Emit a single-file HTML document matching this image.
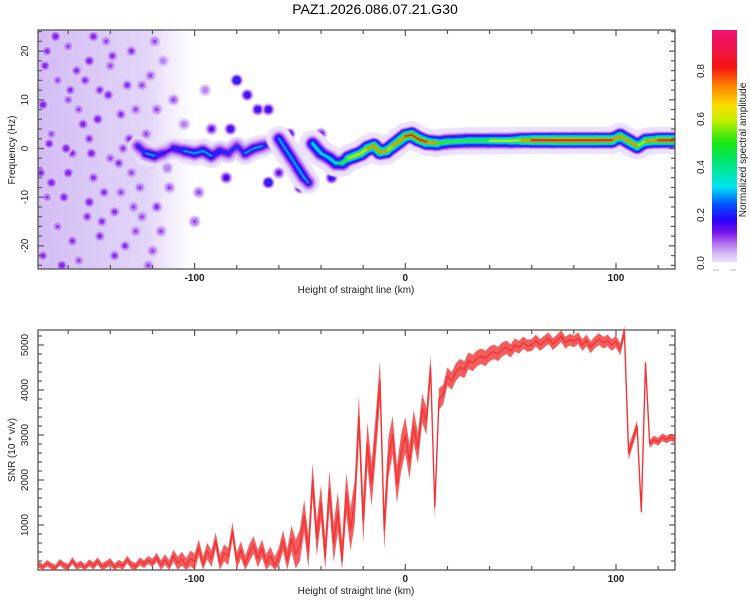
<!DOCTYPE html>
<html><head><meta charset="utf-8">
<style>
html,body{margin:0;padding:0;background:#fff;}
#wrap{position:relative;width:750px;height:600px;overflow:hidden;font-family:"Liberation Sans",sans-serif;}
canvas{position:absolute;}
svg{position:absolute;left:0;top:0;}
</style></head>
<body>
<div id="wrap">
<canvas id="spec" width="637" height="239" style="left:38px;top:30px"></canvas>
<canvas id="cbar" width="25" height="232" style="left:712px;top:30px"></canvas>
<svg id="svg" width="750" height="600"></svg>
</div>
<script>
// ---- SNR data (x in km, 2 km steps from -174) ----
const snrStart = -174;
const snrStep = 2;
const snrValues = [120,60,150,90,40,170,100,60,210,80,130,50,160,90,200,70,120,180,60,140,90,230,110,70,190,130,220,
160,280,110,230,90,320,150,250,100,260,
180,500,120,420,250,650,150,380,300,870,200,450,120,380,560,250,480,150,320,90,
300,650,200,700,350,550,
1200,400,2000,700,1500,300,1800,
600,1300,200,1700,900,
1500,3400,1100,2800,
1900,3000,4200,900,
2500,3000,1900,2600,
3000,2400,3200,2700,3600,3300,
4500,1400,3800,
3900,4300,4200,4400,
4500,4450,4650,4600,4700,4750,4700,4800,
4850,4800,4900,4950,4870,5000,4950,5050,4980,5000,
5100,5000,5080,5150,5020,5100,5200,5050,5120,5080,5150,5000,5100,4950,5060,5130,5050,5100,5000,5080,
4900,5300,
2600,2900,3200,1300,
4600,2800,2900,2850,2950,2900,2950,2900];
// noise half-spread of the SNR trace at breakpoints
const spreadX = [-174,-120,-100,-60,-50,-20,0,20,60,104,106,114,128];
const spreadV = [70,90,180,200,350,500,400,200,130,130,150,90,80];
// ---- Spectrogram ridge tracks ----
const ridge1X = [-127,-123,-119,-115,-110,-105,-100,-96,-92,-88,-84,-80,-76,-72,-68,-64];
const ridge1F = [0.5,-1,-1.5,-1,0,-0.5,-1,-0.5,-1.5,-0.5,-1,0.5,-1,0,0.5,1];
const ridge1A = [0.12,0.3,0.3,0.15,0.2,0.3,0.3,0.32,0.3,0.2,0.25,0.15,0.25,0.3,0.25,0.2];
const ridge2X = [-60,-57,-54,-51,-48,-46];
const ridge2F = [2,0,-2,-4,-6,-7];
const ridge2A = [0.3,0.35,0.3,0.3,0.35,0.2];
const ridge3X = [-44,-40,-36,-33,-30,-27,-24,-21,-18,-15,-12,-9,-6,-3,0,3,6,10,15,20,30,40,50,55,60,70,80,90,98,102,106,110,114,120,128];
const ridge3F = [1,-1,-2,-3,-3,-2,-1.5,-1,0,0.5,-0.7,-0.5,0.5,1.5,2.5,2.8,2,1.3,1.1,1.4,1.6,1.6,1.6,1.7,1.7,1.7,1.7,1.7,1.7,2.5,1.5,0.5,1.5,1.7,1.7];
const ridge3A = [0.4,0.4,0.35,0.45,0.4,0.6,0.7,0.65,0.7,0.75,0.75,0.7,0.7,0.75,0.8,0.85,0.8,0.85,0.6,0.55,0.55,0.58,0.6,0.7,0.85,0.88,0.9,0.88,0.85,0.6,0.85,0.6,0.7,0.85,0.88];
// ---- scattered noise blobs ----
const noiseX = [-170,-160,-150,-140,-130,-165,-145,-125,-172,-155,-135,-118,-168,-150,-140,-160,-130,-120,-170,-150,-135,-118,-165,-145,-128,-172,-155,-138,-120,-158,-110,-112,-105,-100,-95,-160,-142,-115,-125,-148,-80,-75,-70,-65,-92,-83,-55,-40,-85,-65,-50,-35,-98,-60,
 -166,-156,-146,-136,-126,-116,-171,-161,-151,-141,-131,-121,-168,-158,-148,-138,-128,-163,-153,-143,-133,-123,-113,-169,-159,-149,-139,-129,-119,-162,-152,-132,-122,-173,-144,-134];
const noiseF = [20,21,18,17,20,14,12,13,9,8,7,8,3,2,-2,-5,-5,-3,-10,-11,-9,-12,-16,-18,-17,-22,-23,-22,-21,-1,10,-8,5,-15,12,10,22,18,-14,-6,14,11,8,8,4,4,3,3,-6,-7,-8,-6,-9,-5,
 23,16,6,-3,-8,-17,17,0,-14,11,2,15,-7,-19,23,-13,8,-24,5,-9,-20,3,-4,1,12,-1,19,-12,22,-10,14,13,-24,-5,-15,0];
const noiseA = [0.12,0.1,0.14,0.1,0.12,0.1,0.12,0.1,0.14,0.1,0.12,0.1,0.1,0.12,0.1,0.14,0.1,0.12,0.1,0.14,0.1,0.12,0.1,0.12,0.1,0.12,0.1,0.12,0.1,0.12,0.1,0.1,0.08,0.1,0.08,0.1,0.1,0.08,0.1,0.12,0.25,0.2,0.2,0.2,0.15,0.2,0.2,0.15,0.18,0.25,0.2,0.2,0.1,0.15,
 0.14,0.12,0.14,0.12,0.1,0.1,0.13,0.14,0.12,0.13,0.12,0.1,0.14,0.12,0.13,0.12,0.1,0.14,0.13,0.12,0.12,0.1,0.09,0.13,0.12,0.14,0.12,0.1,0.1,0.13,0.12,0.12,0.1,0.13,0.12,0.11];
const xTicks = [-100,0,100];
const fTicks = [-20,-10,0,10,20];
const snrTicks = [1000,2000,3000,4000,5000];
const cbTicks = [0.0,0.2,0.4,0.6,0.8];

// axis functions
const X0=38,X1=675;
function xPix(k){return 405.3+(k)*2.107;}
function fPix(f){return 148.5-f*4.87;}
function sPix(v){return 570-v*0.045;}
function cbPix(a){return 263-a*240;}

// colormap
const stops=[[0,[240,230,252]],[0.04,[215,190,245]],[0.09,[170,100,240]],[0.13,[120,20,235]],[0.18,[40,0,250]],[0.25,[0,90,255]],[0.32,[0,230,240]],[0.42,[0,230,120]],[0.5,[20,230,20]],[0.6,[200,240,0]],[0.66,[250,220,0]],[0.74,[255,130,0]],[0.82,[245,20,20]],[0.92,[240,20,90]],[1,[240,20,130]]];
function cmap(a){
  if(a<=0)return 'rgb(240,230,252)';
  for(let i=1;i<stops.length;i++){if(a<=stops[i][0]){const [a0,c0]=stops[i-1],[a1,c1]=stops[i];const t=(a-a0)/(a1-a0);return 'rgb('+c0.map((c,j)=>Math.round(c+(c1[j]-c)*t)).join(',')+')';}}
  return 'rgb(240,20,130)';
}

// spectrogram
const cv=document.getElementById('spec').getContext('2d');
cv.translate(-X0,-30);
const g=cv.createLinearGradient(xPix(-175),0,xPix(-100),0);
g.addColorStop(0,'rgba(205,180,242,0.9)');g.addColorStop(0.7,'rgba(215,195,246,0.7)');g.addColorStop(1,'rgba(230,215,250,0)');
cv.fillStyle=g;cv.fillRect(X0,30,xPix(-100)-X0,239);
const levels=[0.01,0.05,0.1,0.15,0.2,0.27,0.33,0.42,0.5,0.58,0.65,0.72,0.8,0.86];
const W=9;
function drawTrack(xs,fs,as){
  // soft outer halo
  cv.strokeStyle='rgb(236,224,251)';cv.lineCap='round';cv.lineJoin='round';
  for(let i=0;i<xs.length-1;i++){
    const a=(as[i]+as[i+1])/2;
    cv.lineWidth=2*W*1.5*Math.min(1,a/0.5+0.3);
    cv.beginPath();cv.moveTo(xPix(xs[i]),fPix(fs[i]));cv.lineTo(xPix(xs[i+1]),fPix(fs[i+1]));cv.stroke();
  }
  for(const L of levels){
    cv.strokeStyle=cmap(L+0.02);
    for(let i=0;i<xs.length-1;i++){
      const a=(as[i]+as[i+1])/2;if(a<L)continue;
      cv.lineWidth=2*Math.max(1,W*Math.pow(1-L/a,1.5));
      cv.beginPath();cv.moveTo(xPix(xs[i]),fPix(fs[i]));cv.lineTo(xPix(xs[i+1]),fPix(fs[i+1]));cv.stroke();
    }
  }
}
for(let i=0;i<noiseX.length;i++){
  for(const L of levels){const a=noiseA[i];if(a<L)continue;
    cv.fillStyle=cmap(L+0.02);cv.beginPath();cv.arc(xPix(noiseX[i]),fPix(noiseF[i]),Math.max(1.5,5*(1-L/a)+1.5),0,7);cv.fill();}
}
drawTrack(ridge1X,ridge1F,ridge1A);
drawTrack(ridge2X,ridge2F,ridge2A);
drawTrack(ridge3X,ridge3F,ridge3A);

// colorbar
const cb=document.getElementById('cbar').getContext('2d');
for(let y=0;y<232;y++){cb.fillStyle=cmap((263-(30+y))/240);cb.fillRect(0,y,25,1);}

// SVG axes
const svg=document.getElementById('svg');const NS='http://www.w3.org/2000/svg';
function el(t,a,txt){const e=document.createElementNS(NS,t);for(const k in a)e.setAttribute(k,a[k]);if(txt!==undefined)e.textContent=txt;svg.appendChild(e);return e;}
let e;
e=el('text',{x:375,y:14,'text-anchor':'middle','font-size':14,fill:'#000'},'PAZ1.2026.086.07.21.G30');


function frame(top,bot,name){
  const r=el('rect',{x:X0,y:top,width:X1-X0,height:bot-top,fill:'none',stroke:'#555','stroke-width':1.3});
  
  
  for(let k=-160;k<=120;k+=20){const x=xPix(k);const len=(k%100===0)?6:4;
    const t1=el('line',{x1:x,x2:x,y1:bot,y2:bot-len,stroke:'#555','stroke-width':1.2});
    
    
    const t2=el('line',{x1:x,x2:x,y1:top,y2:top+len,stroke:'#555','stroke-width':1.2});
    
    }
  for(const k of xTicks){const t=el('text',{x:xPix(k),y:bot+12,'text-anchor':'middle','font-size':10,'font-weight':'bold',fill:'#222'},String(k));
    
    }
  const xt=el('text',{x:356,y:bot+24,'text-anchor':'middle','font-size':10,fill:'#222'},'Height of straight line (km)');
  
  
}
frame(30,269,'spectrogram-frame');
frame(330,570,'snr-frame');
for(let f=-24;f<=24;f+=2){const y=fPix(f);const len=(f%10===0)?6:4;
  e=el('line',{x1:X0,x2:X0+len,y1:y,y2:y,stroke:'#555','stroke-width':1.2});
  
  
  e=el('line',{x1:X1,x2:X1-len,y1:y,y2:y,stroke:'#555','stroke-width':1.2});
  
  }
for(const f of fTicks){e=el('text',{x:0,y:0,'text-anchor':'middle','font-size':10,fill:'#222',transform:'translate(28,'+fPix(f)+') rotate(-90)'},String(f));
  
  }
e=el('text',{x:0,y:0,'text-anchor':'middle','font-size':10,fill:'#222',transform:'translate(15,150) rotate(-90)'},'Frequency (Hz)');


for(let v=200;v<=5200;v+=200){const y=sPix(v);const len=(v%1000===0)?6:4;
  e=el('line',{x1:X0,x2:X0+len,y1:y,y2:y,stroke:'#555','stroke-width':1.2});
  
  
  e=el('line',{x1:X1,x2:X1-len,y1:y,y2:y,stroke:'#555','stroke-width':1.2});
  
  }
for(const v of snrTicks){e=el('text',{x:0,y:0,'text-anchor':'middle','font-size':10,fill:'#222',transform:'translate(28,'+sPix(v)+') rotate(-90)'},String(v));
  
  }
e=el('text',{x:0,y:0,'text-anchor':'middle','font-size':10,fill:'#222',transform:'translate(15,450) rotate(-90)'},'SNR (10 * v/v)');


// SNR noise band + line
function spreadAt(k){for(let i=1;i<spreadX.length;i++){if(k<=spreadX[i]){const t=(k-spreadX[i-1])/(spreadX[i]-spreadX[i-1]);return spreadV[i-1]+(spreadV[i]-spreadV[i-1])*t;}}return spreadV[spreadV.length-1];}
let up='',dn='';
snrValues.forEach((v,i)=>{const k=snrStart+i*snrStep;const s=spreadAt(k);
  up+=(i?'L':'M')+xPix(k).toFixed(1)+' '+sPix(v+s).toFixed(1);});
for(let i=snrValues.length-1;i>=0;i--){const k=snrStart+i*snrStep;const s=spreadAt(k);
  dn+='L'+xPix(k).toFixed(1)+' '+sPix(Math.max(0,snrValues[i]-s)).toFixed(1);}
e=el('path',{d:up+dn+'Z',fill:'#f03535','fill-opacity':0.8,stroke:'none'});


let d='';snrValues.forEach((v,i)=>{d+=(i?'L':'M')+xPix(snrStart+i*snrStep).toFixed(1)+' '+sPix(v).toFixed(1);});
e=el('path',{d:d,fill:'none',stroke:'#f03535','stroke-width':1.4,'stroke-linejoin':'round'});


// colorbar ticks
for(const a of cbTicks){e=el('text',{x:0,y:0,'text-anchor':'middle','font-size':10,fill:'#222',transform:'translate(704,'+cbPix(a)+') rotate(-90)'},a.toFixed(1));
  
  }
e=el('line',{x1:713,x2:719,y1:270,y2:270,stroke:'#bbb'});


e=el('line',{x1:730,x2:736,y1:270,y2:270,stroke:'#bbb'});


e=el('text',{x:0,y:0,'text-anchor':'middle','font-size':10,fill:'#222',transform:'translate(746,150) rotate(-90)'},'Normalized spectral amplitude');


</script>
</body></html>
